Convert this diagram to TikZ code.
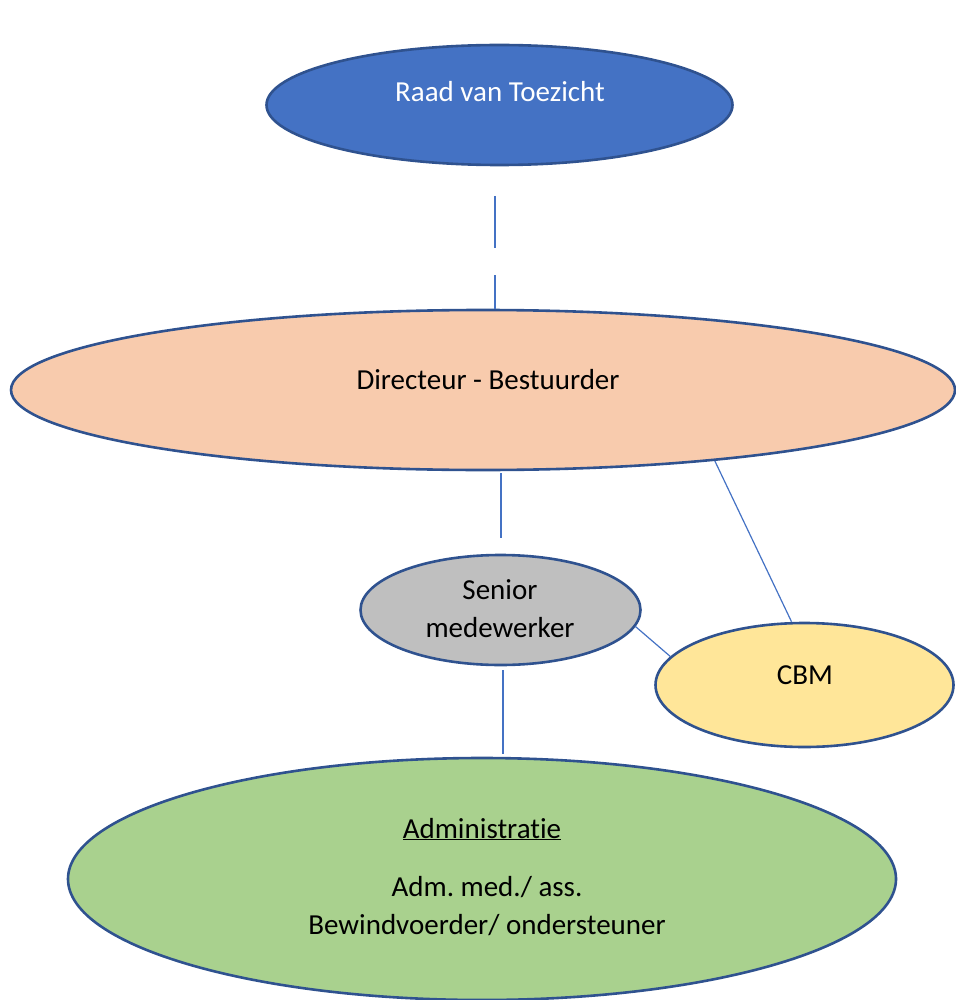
\documentclass[tikz,border=0pt]{standalone}
\usepackage{fontspec}
\setmainfont{Carlito}[Ligatures={NoCommon}]
\usetikzlibrary{shapes.geometric,calc}
\frenchspacing
\definecolor{edgeblue}{HTML}{2F528F}
\definecolor{lineblue}{HTML}{4472C4}
\definecolor{raadfill}{HTML}{4472C4}
\definecolor{dirfill}{HTML}{F8CBAD}
\definecolor{senfill}{HTML}{BFBFBF}
\definecolor{cbmfill}{HTML}{FFE699}
\definecolor{admfill}{HTML}{A9D18E}
\tikzset{
  oval/.style={ellipse, draw=edgeblue, line width=2.6pt, inner sep=0pt},
  lbl/.style={anchor=base, inner sep=0pt, font=\fontsize{29}{34}\selectfont},
  conn/.style={draw=lineblue, line width=1.2pt}
}
\begin{document}
\begin{tikzpicture}[x=1pt,y=-1pt]
\useasboundingbox (0,0) rectangle (955,1000);
% ellipses
\node[oval, fill=raadfill, minimum width=466pt, minimum height=120pt] (raad) at (499.5,105) {};
\node[oval, fill=dirfill, minimum width=944pt, minimum height=160pt] (dir) at (483,390) {};
\node[oval, fill=senfill, minimum width=280pt, minimum height=110pt] (sen) at (500.5,610) {};
\node[oval, fill=cbmfill, minimum width=298pt, minimum height=124pt] (cbm) at (804.5,685) {};
\node[oval, fill=admfill, minimum width=828pt, minimum height=242pt] (adm) at (482,879) {};
% texts
\node[lbl, text=white] (traad) at (500,102) {Raad van Toezicht};
\node[lbl] (tdir) at (488,389) {Directeur - Bestuurder};
\node[lbl] (tsen1) at (500,599) {Senior};
\node[lbl] (tsen2) at (500,637) {medewerker};
\node[lbl] (tcbm) at (805,684) {CBM};
\node[lbl] (tadm1) at (482,838) {\underline{Administratie}};
\node[lbl] (tadm2) at (487,896) {Adm. med./ ass.};
\node[lbl] (tadm3) at (487,934) {Bewindvoerder/ ondersteuner};
% connector end points
\coordinate (c1) at (495,196);
\coordinate (c2) at (501,538);
\coordinate (c3) at (503,670);
\coordinate (c4) at (503,754);
% connectors
\draw[conn, dash pattern=on 52pt off 27pt on 80pt] (c1) -- (c1 |- dir.north);
\draw[conn, shorten <=2pt] (dir.south -| c2) -- (c2);
\draw[conn] (dir.-17) -- ($(cbm.north)+(-13,0)$);
\draw[conn] (sen.-7) -- (cbm.168);
\draw[conn] (c3) -- (c4);
\end{tikzpicture}
\end{document}
